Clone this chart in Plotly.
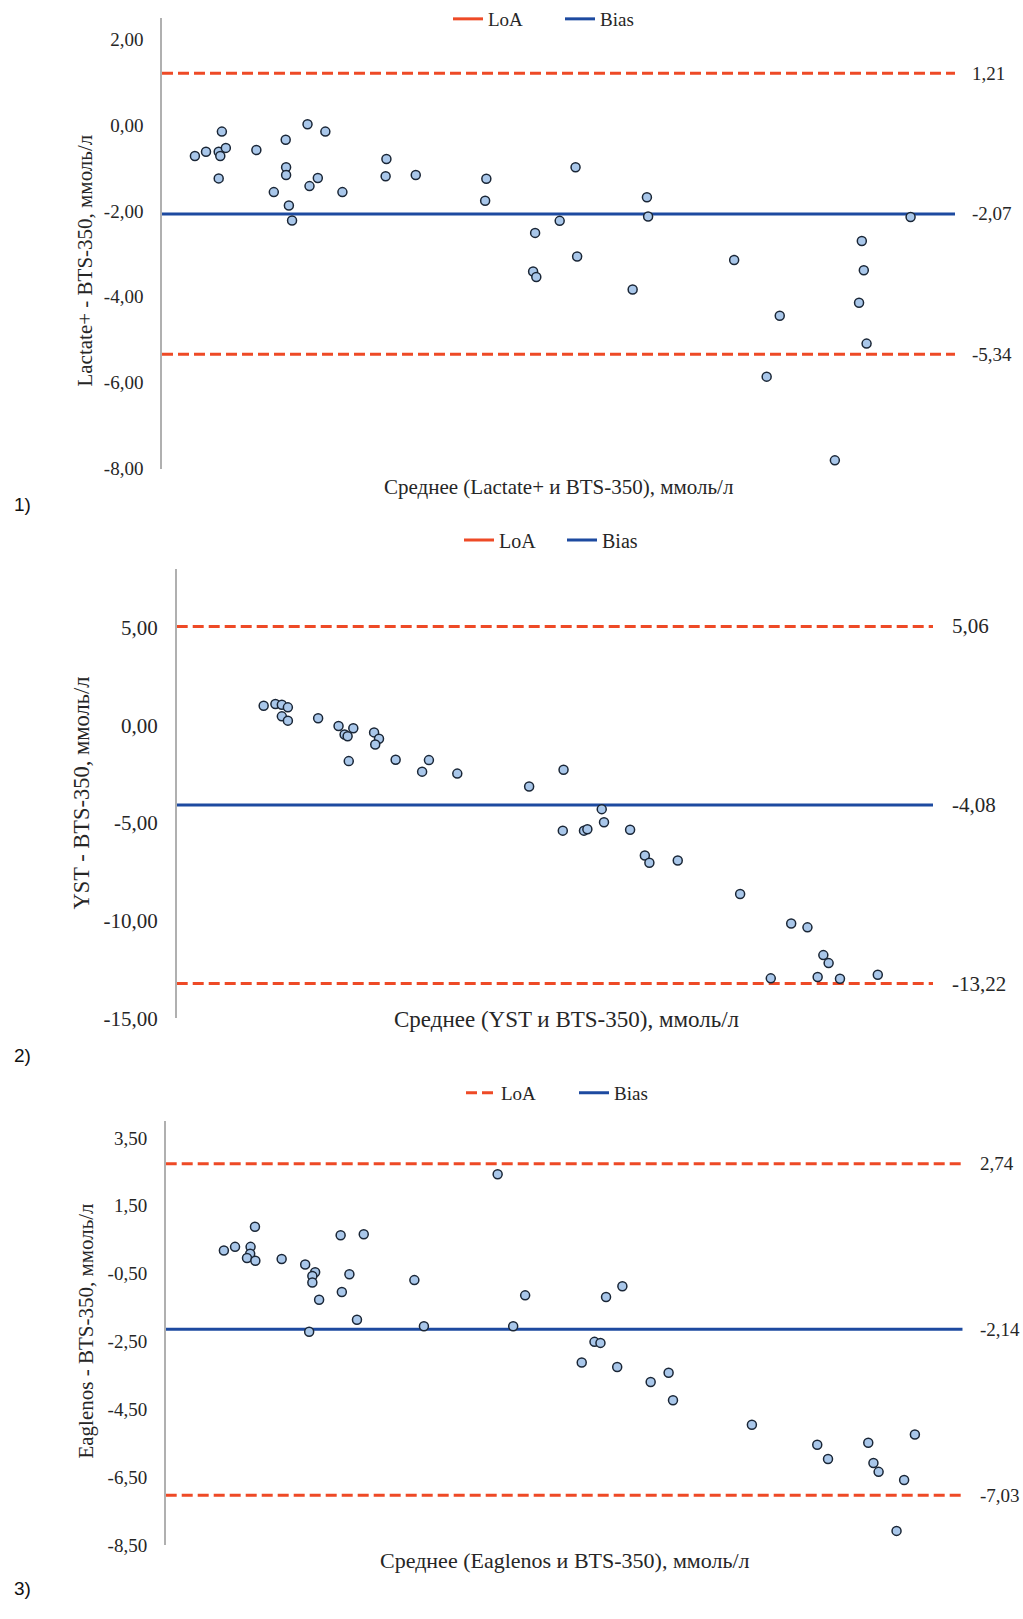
import plotly.graph_objects as go

# ---------------- data ----------------
# Panel 1: Lactate+ vs BTS-350
lac_mean = [0.83, 1.11, 1.43, 1.47, 1.51, 1.61, 1.43, 2.38, 3.12, 3.13, 3.13, 3.20, 3.28, 2.82,
            3.67, 3.72, 3.93, 4.12, 4.55, 5.66, 5.64, 6.40, 8.18, 8.15, 10.43, 12.23, 12.26,
            10.03, 9.41, 10.47, 9.36, 9.44, 11.87, 14.43, 15.58, 15.25, 16.97, 17.65, 17.70,
            17.58, 17.77, 18.88]
lac_diff = [-0.72, -0.62, -0.62, -0.72, -0.15, -0.53, -1.24, -0.58, -0.34, -0.98, -1.16, -1.87,
            -2.22, -1.56, 0.02, -1.42, -1.23, -0.15, -1.56, -0.79, -1.19, -1.16, -1.25, -1.76,
            -0.98, -1.68, -2.13, -2.23, -2.51, -3.06, -3.41, -3.54, -3.83, -3.14, -4.44, -5.86,
            -7.81, -2.70, -3.38, -4.14, -5.09, -2.14]
lac_bias = -2.07
lac_loa = [1.21, -5.34]

# Panel 2: YST vs BTS-350
yst_mean = [2.30, 2.61, 2.78, 2.94, 2.78, 2.94, 3.74, 4.28, 4.44, 4.52, 4.67, 4.55, 5.22, 5.35,
            5.25, 5.79, 6.49, 6.67, 7.42, 9.32, 10.23, 11.24, 11.30, 10.21, 10.77, 10.86, 11.99,
            12.38, 12.50, 13.25, 14.90, 16.25, 16.68, 17.10, 17.24, 15.71, 16.95, 17.54, 18.54]
yst_diff = [1.00, 1.09, 1.05, 0.92, 0.46, 0.24, 0.36, -0.03, -0.47, -0.56, -0.15, -1.83, -0.36,
            -0.69, -0.98, -1.76, -2.37, -1.78, -2.47, -3.13, -2.27, -4.29, -4.96, -5.39, -5.39,
            -5.32, -5.34, -6.66, -7.03, -6.92, -8.63, -10.14, -10.34, -11.76, -12.17, -12.95,
            -12.88, -12.97, -12.77]
yst_bias = -4.08
yst_loa = [5.06, -13.22]

# Panel 3: Eaglenos vs BTS-350
eag_mean = [1.46, 1.74, 2.13, 2.12, 2.04, 2.25, 2.24, 2.91, 3.50, 3.75, 3.68, 3.68, 3.85, 4.39,
            4.97, 4.61, 4.42, 4.80, 3.60, 6.24, 6.48, 8.33, 8.72, 9.02, 11.05, 11.46, 10.76,
            10.91, 10.44, 11.33, 12.17, 12.62, 12.73, 14.71, 16.35, 16.62, 17.63, 17.76, 17.89,
            18.53, 18.80, 18.34]
eag_diff = [0.18, 0.29, 0.29, 0.09, -0.04, -0.12, 0.88, -0.07, -0.23, -0.46, -0.57, -0.76, -1.27,
            0.63, 0.66, -0.52, -1.04, -1.86, -2.21, -0.69, -2.05, 2.43, -2.05, -1.14, -1.19,
            -0.87, -2.51, -2.54, -3.12, -3.25, -3.69, -3.42, -4.23, -4.95, -5.54, -5.96, -5.48,
            -6.08, -6.34, -6.58, -5.24, -8.08]
eag_bias = -2.14
eag_loa = [2.74, -7.03]

# tick labels
lac_ticks = [2, 0, -2, -4, -6, -8]
lac_ticktext = ["2,00", "0,00", "-2,00", "-4,00", "-6,00", "-8,00"]
yst_ticks = [5, 0, -5, -10, -15]
yst_ticktext = ["5,00", "0,00", "-5,00", "-10,00", "-15,00"]
eag_ticks = [3.5, 1.5, -0.5, -2.5, -4.5, -6.5, -8.5]
eag_ticktext = ["3,50", "1,50", "-0,50", "-2,50", "-4,50", "-6,50", "-8,50"]

titles_y = ["Lactate+ - BTS-350, ммоль/л", "YST - BTS-350, ммоль/л", "Eaglenos - BTS-350, ммоль/л"]
titles_x = ["Среднее (Lactate+ и BTS-350), ммоль/л", "Среднее (YST и BTS-350), ммоль/л",
            "Среднее (Eaglenos и BTS-350), ммоль/л"]
panel_labels = ["1)", "2)", "3)"]

# ---------------- styling ----------------
W, H = 1023, 1619
SERIF = "Liberation Serif, Times New Roman, serif"
RED = "#ee4a26"
BLUE = "#1d4aa0"
MFILL = "#a9c7ea"
MLINE = "#1a2636"
TXT = "#262626"


def yp(px):
    return 1 - px / H


def xp(px):
    return px / W


def fmt(v):
    return f"{v:.2f}".replace(".", ",")


panels = [
    dict(mean=lac_mean, diff=lac_diff, bias=lac_bias, loa=lac_loa, tv=lac_ticks, tt=lac_ticktext,
         xdom=(162, 955), ydom=(472, 18), yr=(-8, 2.5), fs=19, tfs=21, xfs=21, lfs=19,
         leg=(448, 19), ew=67, legsolid=True, lab_x=970, xt=(558, 491), yt=(85, 262.5),
         pl=(12, 508)),
    dict(mean=yst_mean, diff=yst_diff, bias=yst_bias, loa=yst_loa, tv=yst_ticks, tt=yst_ticktext,
         xdom=(176.7, 933), ydom=(1026, 573.3), yr=(-15, 8), fs=21, tfs=22.5, xfs=23, lfs=20,
         leg=(459, 544), ew=58, legsolid=True, lab_x=950, xt=(566, 1027), yt=(82, 799.5),
         pl=(12, 1063)),
    dict(mean=eag_mean, diff=eag_diff, bias=eag_bias, loa=eag_loa, tv=eag_ticks, tt=eag_ticktext,
         xdom=(165.7, 962.7), ydom=(1556.7, 1129.3), yr=(-8.5, 4.0), fs=19, tfs=21, xfs=22, lfs=19,
         leg=(461, 1101), ew=68, legsolid=False, lab_x=978, xt=(565, 1572), yt=(86, 1341.5),
         pl=(12, 1600)),
]

XR = [0, 20]

fig = go.Figure()
annotations = []
layout = dict(
    width=W, height=H, margin=dict(l=0, r=0, t=0, b=0),
    paper_bgcolor="white", plot_bgcolor="white",
    font=dict(family=SERIF, color=TXT, size=18),
)

for i, p in enumerate(panels, start=1):
    sfx = "" if i == 1 else str(i)
    xa, ya = "x" + sfx, "y" + sfx
    legname = "legend" if i == 1 else f"legend{i}"

    # LoA lines (dashed)
    for k, v in enumerate(p["loa"]):
        fig.add_trace(go.Scatter(
            x=XR, y=[v, v], xaxis=xa, yaxis=ya, mode="lines", name="LoA",
            line=dict(color=RED, width=3, dash="11px,5px"),
            showlegend=(k == 0 and not p["legsolid"]), legend=legname, hoverinfo="skip"))
    if p["legsolid"]:
        fig.add_trace(go.Scatter(
            x=[None], y=[None], xaxis=xa, yaxis=ya, mode="lines", name="LoA",
            line=dict(color=RED, width=3), showlegend=True, legend=legname))
    # Bias line
    fig.add_trace(go.Scatter(
        x=XR, y=[p["bias"], p["bias"]], xaxis=xa, yaxis=ya, mode="lines", name="Bias",
        line=dict(color=BLUE, width=3), showlegend=True, legend=legname, hoverinfo="skip"))
    # points
    fig.add_trace(go.Scatter(
        x=p["mean"], y=p["diff"], xaxis=xa, yaxis=ya, mode="markers", showlegend=False,
        marker=dict(size=9, color=MFILL, line=dict(color=MLINE, width=1.5))))

    layout["xaxis" + sfx] = dict(
        domain=[xp(p["xdom"][0]), xp(p["xdom"][1])], range=XR, anchor=ya,
        showticklabels=False, showline=False, showgrid=False, zeroline=False, ticks="")
    layout["yaxis" + sfx] = dict(
        domain=[yp(p["ydom"][0]), yp(p["ydom"][1])], range=list(p["yr"]), anchor=xa,
        tickvals=p["tv"], ticktext=p["tt"], tickfont=dict(size=p["fs"], family=SERIF, color=TXT),
        showline=True, linecolor="#b0b0b0", linewidth=1.5, showgrid=False, zeroline=False,
        ticks="", ticklabelstandoff=13)
    layout[legname] = dict(
        orientation="h", x=xp(p["leg"][0]), xanchor="left", y=yp(p["leg"][1]), yanchor="middle",
        entrywidth=p["ew"], entrywidthmode="pixels",
        font=dict(size=p["lfs"], family=SERIF, color=TXT), bgcolor="rgba(0,0,0,0)")

    # right-side value labels
    for v in list(p["loa"]) + [p["bias"]]:
        annotations.append(dict(
            x=xp(p["lab_x"]), xref="paper", y=v, yref=ya, text=fmt(v), showarrow=False,
            xanchor="left", yanchor="middle", font=dict(size=p["fs"], family=SERIF, color=TXT)))
    # x title
    annotations.append(dict(
        x=xp(p["xt"][0]), y=yp(p["xt"][1]), xref="paper", yref="paper", text=titles_x[i - 1],
        showarrow=False, xanchor="center", yanchor="middle",
        font=dict(size=p["xfs"], family=SERIF, color=TXT)))
    # y title
    annotations.append(dict(
        x=xp(p["yt"][0]), y=yp(p["yt"][1]), xref="paper", yref="paper", text=titles_y[i - 1],
        showarrow=False, xanchor="center", yanchor="middle", textangle=-90,
        font=dict(size=p["tfs"], family=SERIF, color=TXT)))
    # panel label
    annotations.append(dict(
        x=xp(p["pl"][0]), y=yp(p["pl"][1]), xref="paper", yref="paper", text=panel_labels[i - 1],
        showarrow=False, xanchor="left", yanchor="middle",
        font=dict(size=19, family="Liberation Sans, Arial, sans-serif", color="#111111")))

layout["annotations"] = annotations
fig.update_layout(**layout)
fig.write_html(
    "out.html",
    config={"displayModeBar": False},
    post_script="document.body.style.margin='0';document.body.style.overflow='hidden';",
)
